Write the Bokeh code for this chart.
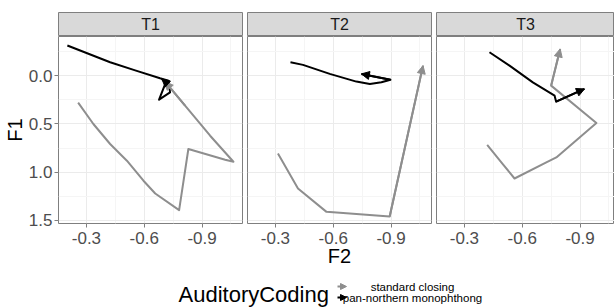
from bokeh.plotting import figure
from bokeh.layouts import row, column
from bokeh.models import Range1d, FixedTicker, PrintfTickFormatter, Arrow, NormalHead, Label
from bokeh.core.properties import value
from bokeh.embed import file_html
from bokeh.resources import INLINE

# ---------------- data ----------------
facets = ["T1", "T2", "T3"]
codings = ["standard closing", "pan-northern monophthong"]
coding_colors = ["#8E8E8E", "#000000"]

# T1
t1_sc_f2 = [-0.257, -0.336, -0.423, -0.510, -0.596, -0.657, -0.781, -0.829, -1.020, -1.063, -0.942, -0.812, -0.708]
t1_sc_f1 = [0.278, 0.500, 0.708, 0.882, 1.090, 1.223, 1.396, 0.760, 0.872, 0.893, 0.622, 0.309, 0.059]
t1_pn_f2 = [-0.201, -0.423, -0.553, -0.682, -0.726, -0.734, -0.677, -0.712, -0.691]
t1_pn_f1 = [-0.316, -0.142, -0.058, 0.025, 0.049, 0.171, 0.247, 0.067, 0.031]
# T2
t2_sc_f2 = [-0.313, -0.417, -0.565, -0.893, -1.066]
t2_sc_f1 = [0.806, 1.171, 1.414, 1.463, -0.107]
t2_pn_f2 = [-0.378, -0.443, -0.582, -0.720, -0.790, -0.850, -0.897, -0.746]
t2_pn_f1 = [-0.142, -0.115, -0.021, 0.059, 0.083, 0.066, 0.039, -0.021]
# T3
t3_sc_f2 = [-0.418, -0.499, -0.560, -0.725, -0.777, -0.985, -0.750, -0.797]
t3_sc_f1 = [0.716, 0.917, 1.067, 0.900, 0.848, 0.490, 0.101, -0.281]
t3_pn_f2 = [-0.430, -0.534, -0.655, -0.768, -0.776, -0.923]
t3_pn_f1 = [-0.246, -0.107, 0.067, 0.205, 0.268, 0.135]

series = {
    "T1": [(t1_sc_f2, t1_sc_f1), (t1_pn_f2, t1_pn_f1)],
    "T2": [(t2_sc_f2, t2_sc_f1), (t2_pn_f2, t2_pn_f1)],
    "T3": [(t3_sc_f2, t3_sc_f1), (t3_pn_f2, t3_pn_f1)],
}

x_ticks = [-0.3, -0.6, -0.9]
x_minor = [-0.15, -0.45, -0.75, -1.05]
y_ticks = [0.0, 0.5, 1.0, 1.5]
y_minor = [-0.25, 0.25, 0.75, 1.25]
x_label = "F2"
y_label = "F1"
legend_title = "AuditoryCoding"

# ---------------- layout / style ----------------
FONT = "Liberation Sans"
X_START, X_END = -0.155, -1.11
Y_BOTTOM, Y_TOP = 1.535, -0.41
FRAME_W = [184, 184, 178]
BORDER_L = [58, 2, 2]
BORDER_R = [3, 3, 0]
FRAME_H = 187
STRIP_H = 24
STRIP_TOP = 12
PANEL_BOTTOM = 55
PX_PER_UNIT = FRAME_W[0] / (X_START - X_END)
BORDER_COL = "#7F7F7F"
GRID_COL = "#EBEBEB"
MINOR_COL = "#F5F5F5"

cols = []
for i, fac in enumerate(facets):
    w = FRAME_W[i]
    # strip
    s = figure(frame_width=w, frame_height=STRIP_H, x_range=Range1d(0, 1), y_range=Range1d(0, 1),
               x_axis_location=None, y_axis_location=None, toolbar_location=None,
               output_backend="svg", min_border_left=BORDER_L[i], min_border_right=BORDER_R[i],
               min_border_top=STRIP_TOP, min_border_bottom=0)
    s.grid.visible = False
    s.background_fill_color = "#D9D9D9"
    s.outline_line_color = BORDER_COL
    s.outline_line_width = 1
    s.text(x=[0.5], y=[0.5], text=[fac], text_align="center", text_baseline="middle",
           text_font=value(FONT), text_font_size="16px", text_color="#1A1A1A")

    # panel
    x_end = X_START - w / PX_PER_UNIT
    p = figure(frame_width=w, frame_height=FRAME_H,
               x_range=Range1d(X_START, x_end), y_range=Range1d(Y_BOTTOM, Y_TOP),
               toolbar_location=None, output_backend="svg",
               min_border_left=BORDER_L[i], min_border_right=BORDER_R[i],
               min_border_top=0, min_border_bottom=PANEL_BOTTOM,
               y_axis_location="left" if i == 0 else None)
    p.outline_line_color = BORDER_COL
    p.outline_line_width = 1
    p.background_fill_color = "white"

    p.xaxis.ticker = FixedTicker(ticks=x_ticks, minor_ticks=x_minor)
    p.xaxis.formatter = PrintfTickFormatter(format="%.1f")
    p.xaxis.axis_line_color = None
    p.xaxis.major_tick_line_color = BORDER_COL
    p.xaxis.major_tick_out = 4
    p.xaxis.major_tick_in = 0
    p.xaxis.minor_tick_line_color = None
    p.xaxis.major_label_text_font = FONT
    p.xaxis.major_label_text_font_size = "17px"
    p.xaxis.major_label_text_color = "#4D4D4D"
    p.xaxis.major_label_standoff = 4
    if i == 1:
        p.xaxis.axis_label = x_label
        p.xaxis.axis_label_text_font = FONT
        p.xaxis.axis_label_text_font_size = "20px"
        p.xaxis.axis_label_text_font_style = "normal"
        p.xaxis.axis_label_text_color = "#000000"
        p.xaxis.axis_label_standoff = -2
    if i == 0:
        p.yaxis.ticker = FixedTicker(ticks=y_ticks, minor_ticks=y_minor)
        p.yaxis.formatter = PrintfTickFormatter(format="%.1f")
        p.yaxis.axis_line_color = None
        p.yaxis.major_tick_line_color = BORDER_COL
        p.yaxis.major_tick_out = 4
        p.yaxis.major_tick_in = 0
        p.yaxis.minor_tick_line_color = None
        p.yaxis.major_label_text_font = FONT
        p.yaxis.major_label_text_font_size = "17px"
        p.yaxis.major_label_text_color = "#4D4D4D"
        p.yaxis.major_label_standoff = 2
        p.yaxis.axis_label = y_label
        p.yaxis.axis_label_text_font = FONT
        p.yaxis.axis_label_text_font_size = "20px"
        p.yaxis.axis_label_text_font_style = "normal"
        p.yaxis.axis_label_text_color = "#000000"
        p.yaxis.axis_label_standoff = 0
    p.ygrid.ticker = FixedTicker(ticks=y_ticks, minor_ticks=y_minor)
    p.xgrid.ticker = FixedTicker(ticks=x_ticks, minor_ticks=x_minor)
    for g in (p.xgrid, p.ygrid):
        g.grid_line_color = GRID_COL
        g.grid_line_width = 1
        g.minor_grid_line_color = MINOR_COL
        g.minor_grid_line_width = 1

    for (f2, f1), col in zip(series[fac], coding_colors):
        p.line(f2, f1, line_color=col, line_width=2, line_join="round")
        p.add_layout(Arrow(x_start=f2[-2], y_start=f1[-2], x_end=f2[-1], y_end=f1[-1],
                           line_color=col, line_width=2,
                           end=NormalHead(size=8, fill_color=col, line_color=col, line_width=1)))
    cols.append(column(s, p, spacing=0))

panels = row(*cols, spacing=0)

# ---------------- legend ----------------
LEG_W, LEG_H = 614, 29
lg = figure(frame_width=LEG_W, frame_height=LEG_H, x_range=Range1d(0, LEG_W), y_range=Range1d(LEG_H, 0),
            x_axis_location=None, y_axis_location=None, toolbar_location=None, output_backend="svg",
            min_border_left=0, min_border_right=0, min_border_top=0, min_border_bottom=0)
lg.grid.visible = False
lg.outline_line_color = None
lg.add_layout(Label(x=178, y=16, text=legend_title, text_align="left", text_baseline="middle",
                    text_font=FONT, text_font_size="22px", text_color="#000000"))
key_y = [8, 19]
for ky, lab, col in zip(key_y, codings, coding_colors):
    lg.add_layout(Arrow(x_start=337, y_start=ky, x_end=346, y_end=ky, line_color=col, line_width=2,
                        end=NormalHead(size=6, fill_color=col, line_color=col, line_width=1)))
    lg.add_layout(Label(x=412, y=ky, text=lab, text_align="center", text_baseline="middle",
                        text_font=FONT, text_font_size="11.5px", text_color="#000000"))

layout = column(panels, lg, spacing=0)

open("out.html", "w").write(file_html(layout, INLINE))
